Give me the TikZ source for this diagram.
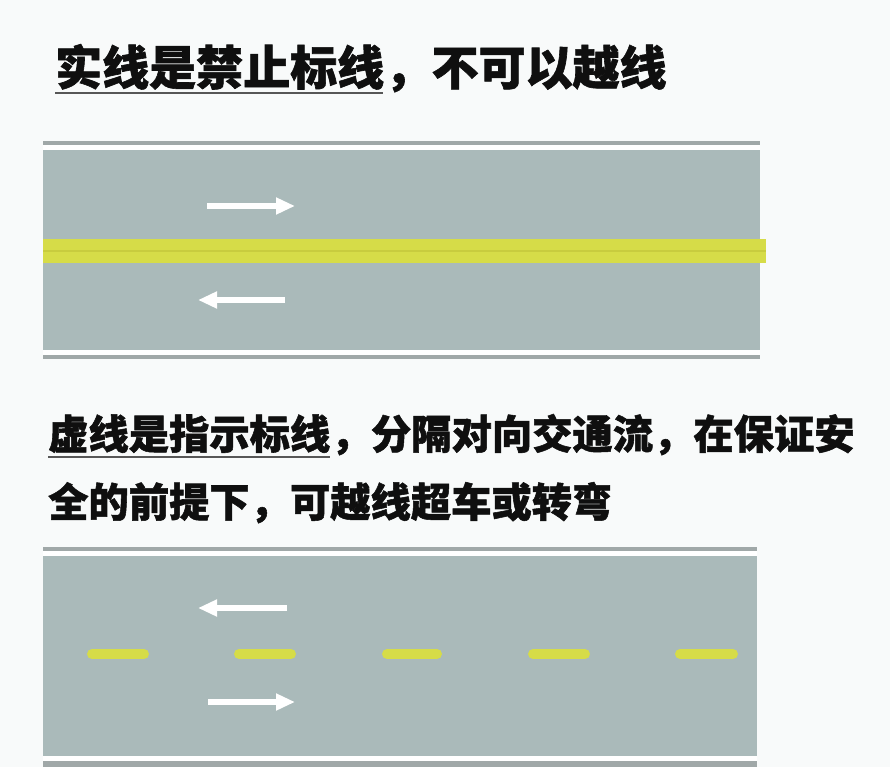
\documentclass[tikz,border=0pt]{standalone}
\usepackage{fontspec}
\setmainfont{Noto Sans CJK SC}
\newfontfamily\cjk{Noto Sans CJK SC}[BoldFeatures={FakeBold=1.3}]
\usetikzlibrary{arrows.meta}
\definecolor{bg}{RGB}{248,250,250}
\definecolor{road}{RGB}{170,186,186}
\definecolor{edge}{RGB}{160,168,168}
\definecolor{lane}{RGB}{214,220,72}
\definecolor{lanedark}{RGB}{200,204,62}
\definecolor{ink}{RGB}{15,15,15}
\tikzset{
  title/.style={anchor=base west, inner sep=0pt, text=ink, font=\cjk\bfseries\fontsize{47}{50}\selectfont},
  body/.style={anchor=base west, inner sep=0pt, text=ink, font=\cjk\bfseries\fontsize{40.3}{44}\selectfont},
  uline/.style={draw=ink!70, line width=2pt},
  flow/.style={draw=white, line width=5.5pt, -{Triangle[length=19pt,width=16pt]}},
  dashmark/.style={draw=lane, line width=10pt, line cap=round},
}
\begin{document}
\begin{tikzpicture}[x=1pt,y=-1pt]
\useasboundingbox (0,0) rectangle (890,767);
\fill[bg] (0,0) rectangle (890,767);

% title
\node[title] (t1) at (55,85) {实线是禁止标线};
\node[title] (t2) at (t1.base east) {，不可以越线};
\draw[uline] (55,93) -- (383,93);

% road 1
\fill[edge] (43,141) rectangle (760,359);
\fill[white] (43,145) rectangle (760,150);
\fill[road] (43,150) rectangle (760,350);
\fill[white] (43,350) rectangle (760,355);
\fill[lane] (43,239) rectangle (766,263);
\draw[lanedark, line width=1.5pt] (43,251) -- (766,251);
\coordinate (a1s) at (207,206); \coordinate (a1e) at (295,206);
\coordinate (a2s) at (285,300); \coordinate (a2e) at (198,300);
\draw[flow] (a1s) -- (a1e);
\draw[flow] (a2s) -- (a2e);

% body text
\node[body] (b1) at (48,449) {虚线是指示标线};
\node[body] (b2) at (b1.base east) {，分隔对向交通流，在保证安};
\node[body] (b3) at (48,517) {全的前提下，可越线超车或转弯};
\draw[uline] (48,457) -- (330,457);

% road 2
\fill[edge] (43,547) rectangle (757,767);
\fill[white] (43,551) rectangle (757,556);
\fill[road] (43,556) rectangle (757,756);
\fill[white] (43,756) rectangle (757,761);
\foreach \xa/\xb in {92/144, 239/291, 387/437, 533/585, 680/733}
  \draw[dashmark] (\xa,654) -- (\xb,654);
\coordinate (a3s) at (287,608); \coordinate (a3e) at (198,608);
\coordinate (a4s) at (208,702); \coordinate (a4e) at (295,702);
\draw[flow] (a3s) -- (a3e);
\draw[flow] (a4s) -- (a4e);
\end{tikzpicture}
\end{document}
